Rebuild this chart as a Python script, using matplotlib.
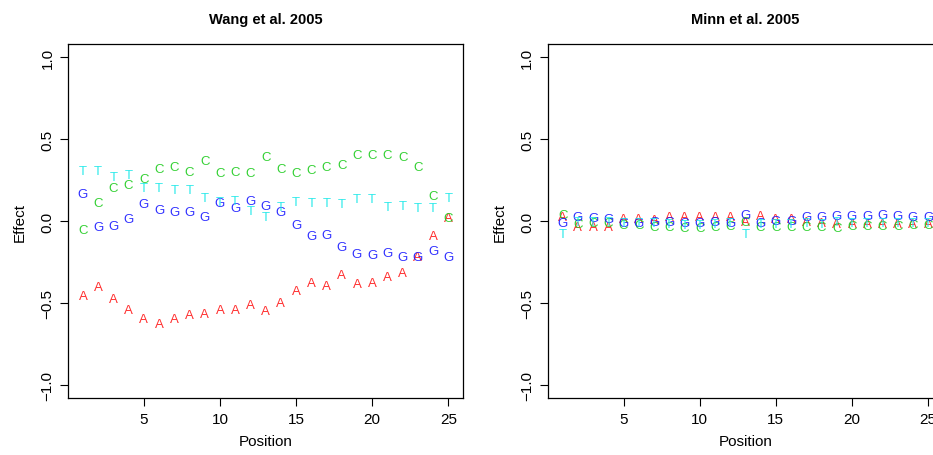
import matplotlib.pyplot as plt
import numpy as np

plt.rcParams['font.family'] = ['Liberation Sans', 'DejaVu Sans']

# Posiciones y efectos por base
positions = list(range(1, 26))
bases = ['A', 'C', 'G', 'T']
base_colors = {'A': '#ff1a1a', 'C': '#1fcc1f', 'G': '#1a1aff', 'T': '#1ae8e8'}

wang_A = [-0.447, -0.396, -0.467, -0.535, -0.586, -0.620, -0.586, -0.565, -0.559, -0.535,
          -0.533, -0.504, -0.537, -0.488, -0.417, -0.366, -0.386, -0.319, -0.372, -0.366,
          -0.331, -0.305, -0.209, -0.081, 0.030]
wang_C = [-0.046, 0.117, 0.208, 0.227, 0.263, 0.329, 0.337, 0.306, 0.373, 0.300,
          0.310, 0.300, 0.398, 0.327, 0.300, 0.321, 0.341, 0.353, 0.414, 0.414,
          0.414, 0.402, 0.337, 0.164, 0.025]
wang_G = [0.174, -0.030, -0.020, 0.023, 0.111, 0.078, 0.064, 0.064, 0.031, 0.117,
          0.092, 0.133, 0.103, 0.062, -0.013, -0.081, -0.075, -0.148, -0.189, -0.197,
          -0.184, -0.209, -0.213, -0.176, -0.209]
wang_T = [0.316, 0.312, 0.276, 0.288, 0.208, 0.208, 0.198, 0.198, 0.153, 0.123,
          0.133, 0.072, 0.035, 0.097, 0.127, 0.117, 0.117, 0.113, 0.141, 0.141,
          0.097, 0.103, 0.086, 0.086, 0.147]

minn_A = [0.035, -0.026, -0.026, -0.026, 0.021, 0.021, 0.015, 0.031, 0.031, 0.031,
          0.031, 0.031, 0.001, 0.042, 0.021, 0.021, 0.001, -0.005, -0.010, -0.009,
          -0.009, -0.009, -0.009, -0.009, -0.009]
minn_C = [0.045, -0.010, -0.005, -0.005, -0.015, -0.012, -0.026, -0.030, -0.034, -0.034,
          -0.030, -0.019, 0.005, -0.030, -0.030, -0.030, -0.030, -0.030, -0.034, -0.019,
          -0.019, -0.019, -0.019, -0.016, -0.016]
minn_G = [0.000, 0.035, 0.030, 0.022, 0.000, 0.000, 0.001, 0.001, -0.003, -0.003,
          0.001, -0.003, 0.049, -0.003, 0.011, 0.011, 0.035, 0.031, 0.042, 0.042,
          0.042, 0.049, 0.042, 0.031, 0.035]
minn_T = [-0.070, 0.005, 0.005, 0.005, -0.005, -0.005, -0.005, -0.010, -0.015, -0.015,
          -0.010, -0.005, -0.070, -0.010, -0.010, -0.010, -0.005, -0.010, 0.001, -0.005,
          -0.005, -0.005, -0.005, -0.005, -0.005]

panels = [
    ('Wang et al. 2005', {'A': wang_A, 'C': wang_C, 'G': wang_G, 'T': wang_T}),
    ('Minn et al. 2005', {'A': minn_A, 'C': minn_C, 'G': minn_G, 'T': minn_T}),
]

fig = plt.figure(figsize=(9.33, 4.56), dpi=100)
# el segundo panel queda recortado por el borde derecho, como en el original
ax_left = [0.0732, 0.5874]
for (title, data), left in zip(panels, ax_left):
    ax = fig.add_axes([left, 0.125, 0.423, 0.776])
    for b in bases:
        for x, y in zip(positions, data[b]):
            ax.text(x, y, b, color=base_colors[b], fontsize=9.5,
                    ha='center', va='center_baseline', alpha=0.9)
    ax.set_xlim(0.04, 25.96)
    ax.set_ylim(-1.08, 1.08)
    ax.set_xticks([5, 10, 15, 20, 25])
    ax.set_yticks([-1.0, -0.5, 0.0, 0.5, 1.0])
    ax.set_yticklabels(['\u22121.0', '\u22120.5', '0.0', '0.5', '1.0'],
                       rotation=90, va='center')
    ax.tick_params(direction='out', length=6, width=0.8, labelsize=11, pad=4)
    for s in ax.spines.values():
        s.set_linewidth(0.9)
    ax.set_xlabel('Position', fontsize=11, labelpad=6)
    ax.set_ylabel('Effect', fontsize=11, labelpad=10)
    ax.set_title(title, fontsize=10.5, fontweight='bold', pad=15)

fig.savefig('out.png', dpi=100)
